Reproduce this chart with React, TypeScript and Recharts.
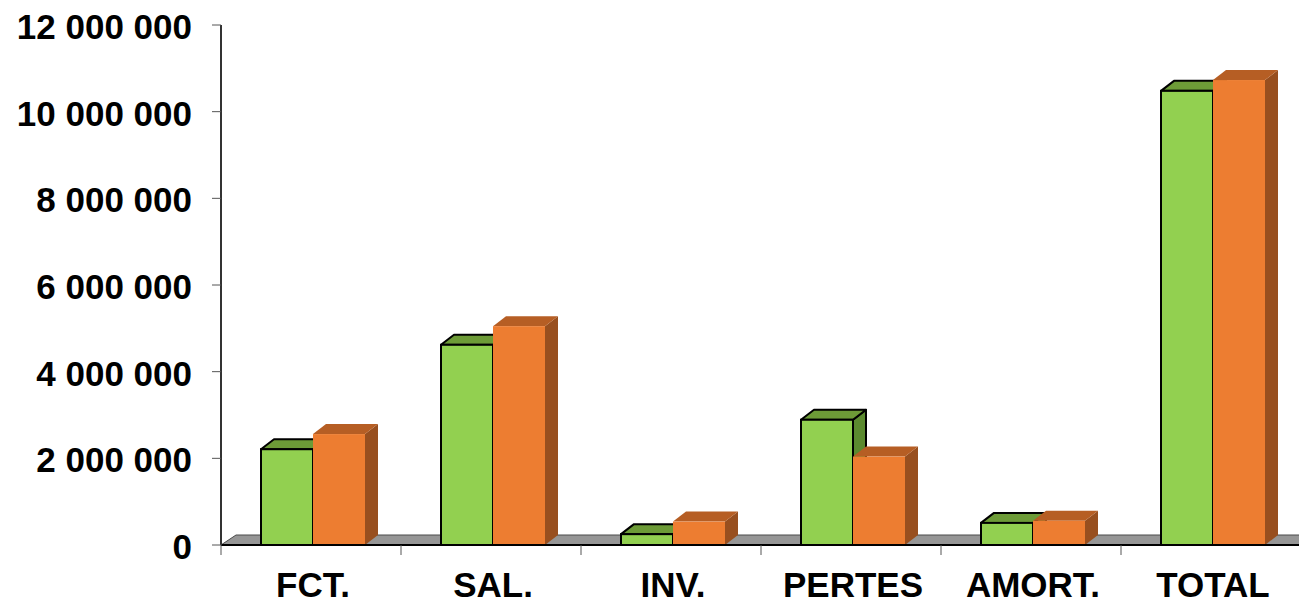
import React from 'react';
import { BarChart, Bar, XAxis, YAxis, ReferenceLine } from 'recharts';

const categories = ['FCT.', 'SAL.', 'INV.', 'PERTES', 'AMORT.', 'TOTAL'];
const greenValues = [2210000, 4620000, 250000, 2890000, 510000, 10480000];
const orangeValues = [2560000, 5050000, 540000, 2040000, 560000, 10730000];
const yTicks = [0, 2000000, 4000000, 6000000, 8000000, 10000000, 12000000];

const data = categories.map((name, i) => ({
  name,
  green: greenValues[i],
  orange: orangeValues[i],
}));

const FONT = '"Liberation Sans", Arial, Helvetica, sans-serif';
const DX = 13;
const DY = 10;
const SHIFT = 2;
const FLOOR_DX = 15;

const formatNumber = (v: number) =>
  String(v).replace(/\B(?=(\d{3})+(?!\d))/g, ' ');

type BoxProps = {
  x?: number;
  y?: number;
  width?: number;
  height?: number;
  front: string;
  top: string;
  side: string;
  outline?: string;
};

const Box3D = (props: BoxProps) => {
  const { front, top, side, outline } = props;
  const x = (props.x ?? 0) + SHIFT;
  const y = props.y ?? 0;
  const w = props.width ?? 0;
  const h = props.height ?? 0;
  if (w <= 0) return null;
  const stroke = outline || 'none';
  const sw = outline ? 2 : 0;
  const topPts = `${x},${y} ${x + DX},${y - DY} ${x + w + DX},${y - DY} ${x + w},${y}`;
  const sidePts = `${x + w},${y} ${x + w + DX},${y - DY} ${x + w + DX},${y + h - DY} ${x + w},${y + h}`;
  return (
    <g>
      <polygon points={sidePts} fill={side} stroke={stroke} strokeWidth={sw} strokeLinejoin="round" />
      <polygon points={topPts} fill={top} stroke={stroke} strokeWidth={sw} strokeLinejoin="round" />
      <rect x={x} y={y} width={w} height={h} fill={front} stroke={stroke} strokeWidth={sw} />
    </g>
  );
};

const Floor = (props: any) => {
  const { x1, y1, x2 } = props;
  if (x1 == null || y1 == null || x2 == null) return null;
  const pts = `${x1},${y1} ${x1 + FLOOR_DX},${y1 - DY} ${x2 + FLOOR_DX},${y1 - DY} ${x2},${y1}`;
  return <polygon points={pts} fill="#969696" stroke="#4a4a4a" strokeWidth={1} />;
};

const YTick = (props: any) => {
  const { x, y, payload } = props;
  return (
    <text
      x={x}
      y={y}
      dy={14}
      textAnchor="end"
      fill="#000"
      fontSize={35}
      fontWeight="bold"
      fontFamily={FONT}
    >
      {formatNumber(payload.value)}
    </text>
  );
};

const XTick = (props: any) => {
  const { x, y, payload, width, visibleTicksCount } = props;
  let half = payload && typeof payload.offset === 'number' && payload.offset > 0 ? payload.offset : 0;
  if (!half && width && visibleTicksCount) half = width / visibleTicksCount / 2;
  if (!half) half = 90;
  const bx = x - half;
  return (
    <g>
      <line x1={bx} y1={y} x2={bx} y2={y + 10} stroke="#555" strokeWidth={1} />
      <text
        x={x + 2}
        y={y}
        dy={52}
        textAnchor="middle"
        fill="#000"
        fontSize={35}
        fontWeight="bold"
        fontFamily={FONT}
      >
        {payload.value}
      </text>
    </g>
  );
};

export default function App() {
  return (
    <div
      style={{
        position: 'absolute',
        left: 0,
        top: 0,
        width: 1299,
        height: 600,
        overflow: 'hidden',
        background: '#fff',
      }}
    >
      <BarChart
        width={1301}
        height={600}
        data={data}
        margin={{ top: 25, right: 0, bottom: 0, left: 0 }}
        barGap={0}
        barSize={52}
      >
        <ReferenceLine y={0} shape={Floor} zIndex={50} ifOverflow="visible" />
        <XAxis
          dataKey="name"
          height={55}
          tickSize={0}
          tickMargin={0}
          tickLine={false}
          axisLine={{ stroke: '#000', strokeWidth: 2 }}
          tick={<XTick />}
          interval={0}
        />
        <YAxis
          width={221}
          domain={[0, 12000000]}
          ticks={yTicks}
          tickSize={9}
          tickMargin={20}
          interval={0}
          axisLine={{ stroke: '#333', strokeWidth: 2 }}
          tickLine={{ stroke: '#555', strokeWidth: 1 }}
          tick={<YTick />}
        />
        <Bar
          dataKey="green"
          isAnimationActive={false}
          shape={(p: any) => (
            <Box3D {...p} front="#92d050" top="#6d9b37" side="#5b8a2f" outline="#000" />
          )}
        />
        <Bar
          dataKey="orange"
          isAnimationActive={false}
          shape={(p: any) => (
            <Box3D {...p} front="#ed7d31" top="#b65e24" side="#984f1f" />
          )}
        />
      </BarChart>
    </div>
  );
}
